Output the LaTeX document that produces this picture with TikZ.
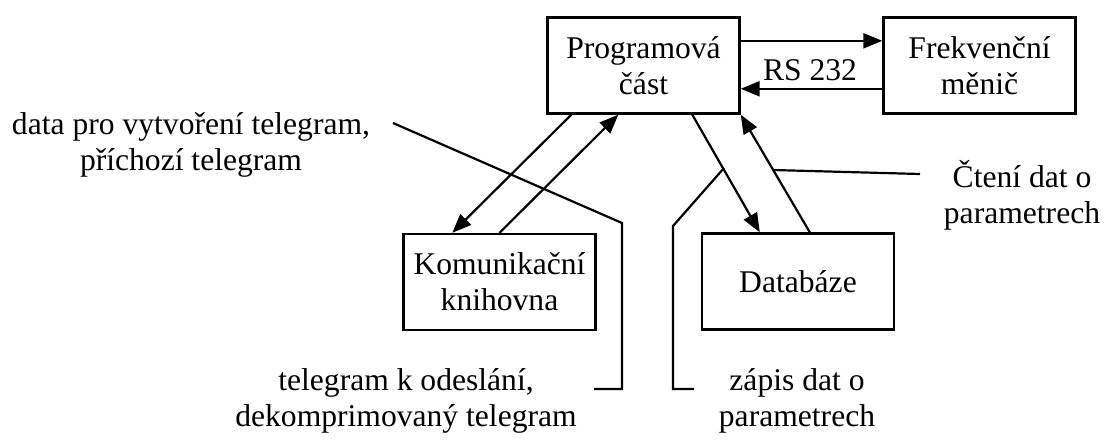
\documentclass[tikz,border=0pt]{standalone}
\usepackage{fontspec}
\setmainfont{Liberation Serif}
\usetikzlibrary{arrows.meta}

\tikzset{
	box/.style={shape=rectangle, draw, line width=2.4pt, minimum width=192pt, minimum height=96pt, inner sep=0pt, align=center},
	arr/.style={line width=2.2pt, -{Triangle[length=19pt, width=15pt]}},
	callout/.style={line width=2.2pt},
	lbl/.style={inner sep=0pt, align=center},
	every node/.style={font=\fontsize{31.6}{36}\selectfont}
}

\begin{document}
\begin{tikzpicture}[x=1pt, y=-1pt]
	\useasboundingbox (0,0) rectangle (1105,439);
	% Blocks
	\node[box] (prog) at (643.5, 65.5) {Programová\\část};
	\node[box] (frek) at (979.5, 65.5) {Frekvenční\\měnič};
	\node[box] (komu) at (499.5, 282) {Komunikační\\knihovna};
	\node[box] (datab) at (798, 281.5) {Databáze};
	% Serial link
	\draw[arr] ([yshift=-24.5pt]prog.north east) -- ([yshift=-24.5pt]frek.north west);
	\draw[arr] ([yshift=-72.5pt]frek.north west) -- ([yshift=-72.5pt]prog.north east);
	\node (rs) at (810, 70) {RS 232};
	% Data flows
	\draw[arr] ([xshift=25pt]prog.south west) -- ([xshift=50pt]komu.north west);
	\draw[arr] (komu.north) -- ([xshift=72pt]prog.south west);
	\draw[arr] ([xshift=146pt]prog.south west) -- ([xshift=59pt]datab.north west);
	\draw[arr] ([xshift=109pt]datab.north west) -- (prog.south east);
	% Labels
	\node[lbl] (txtA) at (191, 145) {data pro vytvoření telegram,\\příchozí telegram};
	\node[lbl] (txtB) at (406, 401) {telegram k odeslání,\\dekomprimovaný telegram};
	\node[lbl] (txtC) at (797, 401) {zápis dat o\\parametrech};
	\node[lbl] (txtD) at (1022, 195) {Čtení dat o\\parametrech};
	% Callout lines
	\coordinate (kA) at (393, 123);
	\coordinate (kB) at (622, 223);
	\coordinate (kC) at (594, 389);
	\draw[callout] (kA) -- (kB) |- (kC);
	\coordinate (kD) at (724, 168);
	\coordinate (kE) at (673, 226);
	\coordinate (kF) at (694, 389);
	\draw[callout] (kD) -- (kE) |- (kF);
	\coordinate (kG) at (773, 170);
	\coordinate (kH) at (920, 174);
	\draw[callout] (kG) -- (kH);
\end{tikzpicture}
\end{document}
